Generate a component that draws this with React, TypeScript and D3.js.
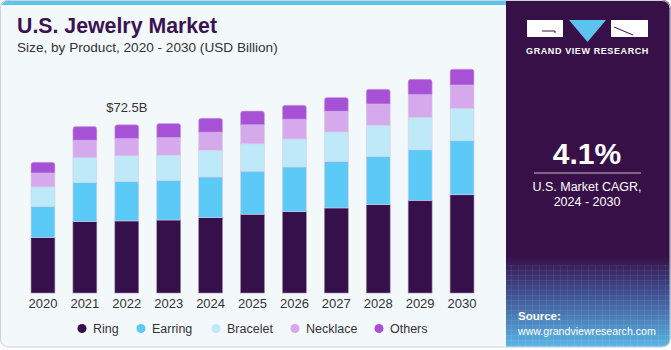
import * as d3 from "d3";

const years = ["2020", "2021", "2022", "2023", "2024", "2025", "2026", "2027", "2028", "2029", "2030"];
const ring = [23.9, 30.8, 31.1, 31.5, 32.5, 34.0, 35.1, 36.7, 38.1, 40.0, 42.4];
const earring = [13.4, 16.8, 17.0, 17.1, 17.6, 18.6, 19.3, 20.0, 20.9, 21.8, 23.3];
const bracelet = [8.5, 10.8, 11.1, 10.9, 11.5, 11.8, 12.1, 12.8, 13.4, 14.0, 14.0];
const necklace = [6.0, 7.5, 7.5, 7.6, 7.8, 8.2, 8.5, 8.9, 9.2, 9.9, 10.1];
const others = [4.6, 5.9, 5.9, 6.0, 6.0, 5.9, 6.0, 6.0, 6.3, 6.5, 6.8];

const segments = ["Ring", "Earring", "Bracelet", "Necklace", "Others"];
const colors = ["#35104a", "#5ccaf6", "#bde9f8", "#d5a9ec", "#a751d7"];

const callout = { year: "2022", label: "$72.5B" };

type Row = { year: string; [k: string]: number | string };

export default function App() {
  const W = 671;
  const H = 350;
  const baseline = 293;
  const font = "'Liberation Sans', Arial, sans-serif";

  const rows: Row[] = years.map((y, i) => ({
    year: y,
    Ring: ring[i],
    Earring: earring[i],
    Bracelet: bracelet[i],
    Necklace: necklace[i],
    Others: others[i],
  }));

  const stack = d3.stack<Row>().keys(segments).value((d, k) => d[k] as number);
  const series = stack(rows);

  const x = d3.scaleBand<string>().domain(years).range([13, 492]).padding(0.43);
  const y = d3.scaleLinear().domain([0, 72.5]).range([baseline, 125]);
  const color = d3.scaleOrdinal<string, string>().domain(segments).range(colors);

  const bw = x.bandwidth();
  const topPath = (x0: number, y0: number, y1: number) => {
    const r = 2.5;
    const p = d3.path();
    p.moveTo(x0, y1);
    p.lineTo(x0, y0 + r);
    p.quadraticCurveTo(x0, y0, x0 + r, y0);
    p.lineTo(x0 + bw - r, y0);
    p.quadraticCurveTo(x0 + bw, y0, x0 + bw, y0 + r);
    p.lineTo(x0 + bw, y1);
    p.closePath();
    return p.toString();
  };

  const legendX = [82, 141, 216, 295, 379];
  const calloutIdx = years.indexOf(callout.year);
  const calloutTotal = series[series.length - 1][calloutIdx][1];

  return (
    <svg
      width={W}
      height={H}
      style={{ position: "absolute", top: 0, left: 0, display: "block" }}
      fontFamily={font}
    >
      <defs>
        <linearGradient id="panelGrad" x1="0" y1="0" x2="0" y2="1">
          <stop offset="0%" stopColor="#371048" />
          <stop offset="74%" stopColor="#371048" />
          <stop offset="84%" stopColor="#3e4d8e" />
          <stop offset="100%" stopColor="#5ab7e6" />
        </linearGradient>
        <pattern id="grid" width="7" height="5" patternUnits="userSpaceOnUse">
          <path d="M0 0.5 H7 M0.5 0 V5" stroke="#ffffff" strokeOpacity="0.06" strokeWidth="1" />
        </pattern>
        <clipPath id="cardClip">
          <rect x={0} y={0} width={W - 0.5} height={347} rx={8} />
        </clipPath>
      </defs>
      <rect x={0} y={0} width={W} height={H} fill="#ffffff" />
      <g clipPath="url(#cardClip)">
        <rect x={0} y={0} width={W} height={347} fill="#f3f8fb" />
        <rect x={0} y={0} width={506} height={5} fill="#5cc3ee" />
        <rect x={506} y={0} width={W - 506} height={347} fill="url(#panelGrad)" />
        <rect x={506} y={265} width={W - 506} height={82} fill="url(#grid)" />
      </g>
      <rect x={0.5} y={0.5} width={W - 1.5} height={346.5} rx={8} fill="none" stroke="#cfd3d8" strokeWidth={1} />

      {/* title */}
      <text x={17} y={33} fontSize={21.3} fontWeight={900} fill="#3a1352">
        U.S. Jewelry Market
      </text>
      <text x={17} y={52} fontSize={13.6} fill="#333333">
        Size, by Product, 2020 - 2030 (USD Billion)
      </text>

      {/* bars */}
      {series.map((s, si) => (
        <g key={s.key}>
          {s.map((d, i) => {
            const x0 = x(years[i]) ?? 0;
            const y0 = y(d[1]);
            const y1 = y(d[0]);
            const fill = color(s.key);
            const stroke = si === 0 ? "#9c8aac" : "#d9cde8";
            return si === series.length - 1 ? (
              <path key={i} d={topPath(x0, y0, y1)} fill={fill} stroke="#c8a8e0" strokeWidth={0.6} />
            ) : (
              <rect key={i} x={x0} y={y0} width={bw} height={y1 - y0} fill={fill} stroke={stroke} strokeWidth={0.6} />
            );
          })}
        </g>
      ))}

      <text
        x={(x(callout.year) ?? 0) + bw / 2}
        y={y(calloutTotal) - 13}
        textAnchor="middle"
        fontSize={13}
        fill="#333333"
      >
        {callout.label}
      </text>

      {/* x axis labels */}
      {years.map((yr) => (
        <text key={yr} x={(x(yr) ?? 0) + bw / 2} y={308} textAnchor="middle" fontSize={13} fill="#333333">
          {yr}
        </text>
      ))}

      {/* legend */}
      {segments.map((k, i) => (
        <g key={k}>
          <circle cx={legendX[i]} cy={328.5} r={4.5} fill={color(k)} />
          <text x={legendX[i] + 11} y={333} fontSize={12.5} fill="#333333">
            {k}
          </text>
        </g>
      ))}

      {/* logo */}
      <g>
        <rect x={527} y={20} width={36} height={17} fill="#ffffff" />
        <path d="M542 31 H555 V33" fill="none" stroke="#371048" strokeWidth={1} />
        <path d="M569 20 H606 L587.5 42 Z" fill="#5cc3ee" />
        <rect x={611} y={20} width={37} height={17} fill="#ffffff" />
        <path d="M614 27 L633 35" fill="none" stroke="#371048" strokeWidth={1} />
        <text x={587.5} y={54} textAnchor="middle" fontSize={9} fontWeight={700} fill="#ffffff" letterSpacing={0.6}>
          GRAND VIEW RESEARCH
        </text>
      </g>

      {/* CAGR */}
      <text x={587} y={164} textAnchor="middle" fontSize={30} fontWeight={700} fill="#ffffff">
        4.1%
      </text>
      <line x1={534} x2={641} y1={173} y2={173} stroke="#ffffff" strokeOpacity={0.7} strokeWidth={1} />
      <text x={587} y={191} textAnchor="middle" fontSize={12.5} fill="#ffffff">
        U.S. Market CAGR,
      </text>
      <text x={587} y={206} textAnchor="middle" fontSize={12.5} fill="#ffffff">
        2024 - 2030
      </text>

      {/* source */}
      <text x={518} y={320} fontSize={11.5} fontWeight={700} fill="#ffffff">
        Source:
      </text>
      <text x={518} y={335} fontSize={10.6} fill="#ffffff">
        www.grandviewresearch.com
      </text>
    </svg>
  );
}
